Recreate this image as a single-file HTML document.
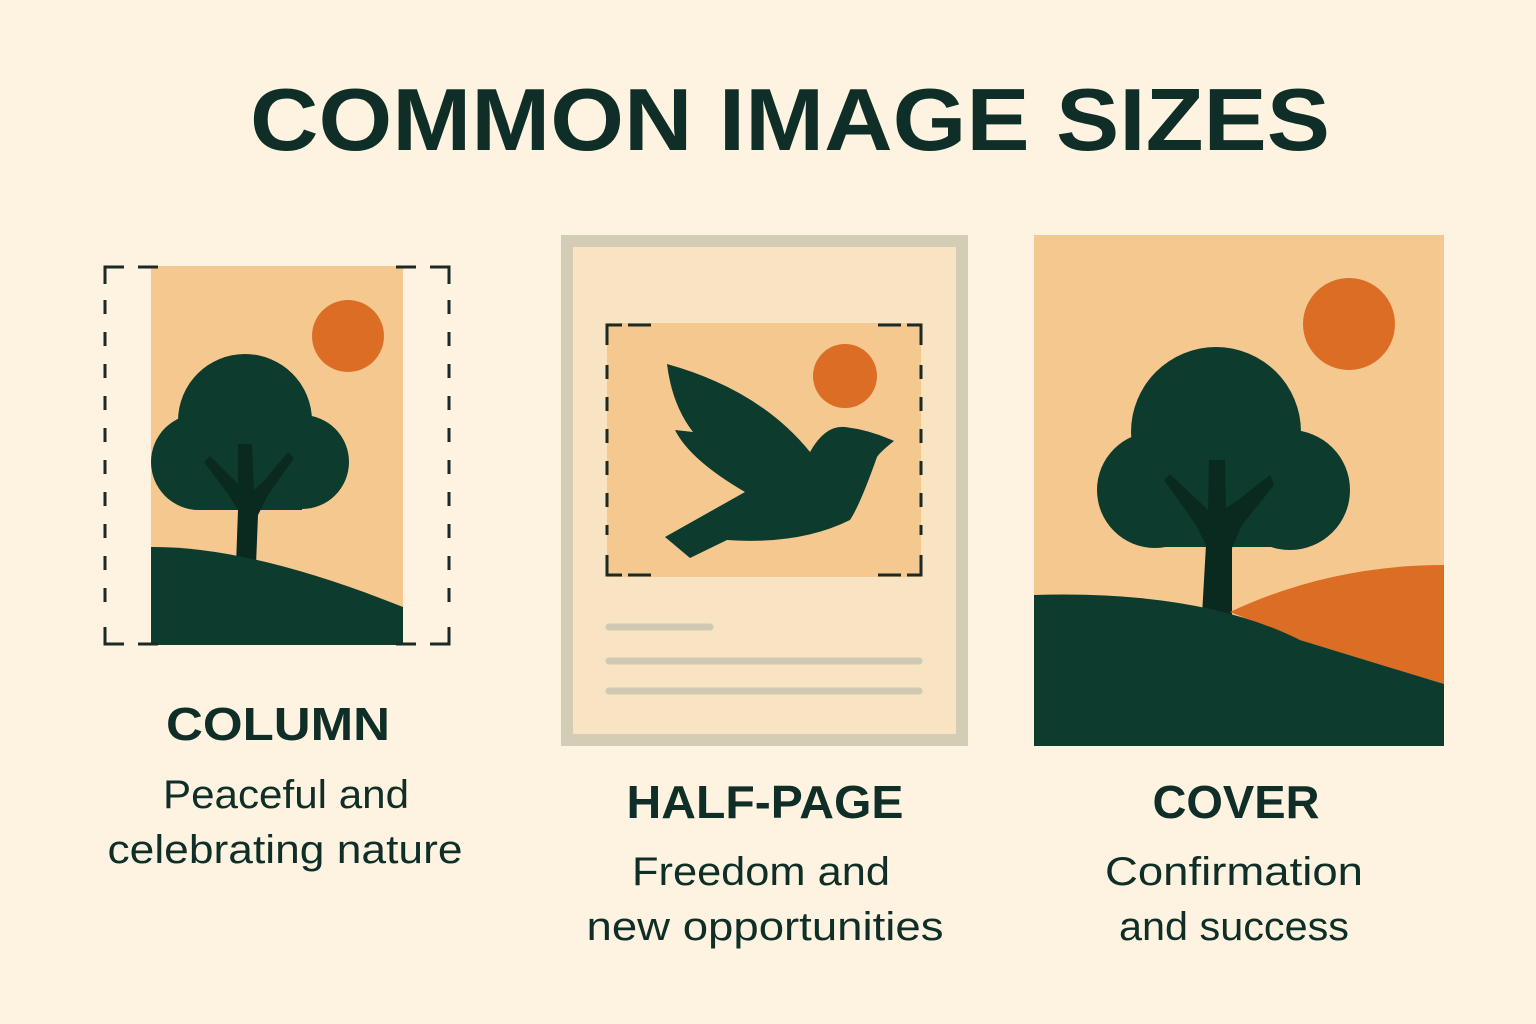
<!DOCTYPE html>
<html><head><meta charset="utf-8"><style>
html,body{margin:0;padding:0;background:#fdf3e0;}
svg{display:block;}
text{font-family:"Liberation Sans","DejaVu Sans",sans-serif;fill:#0f2e27;}
</style></head><body>
<svg width="1536" height="1024" viewBox="0 0 1536 1024">
<rect width="1536" height="1024" fill="#fdf3e0"/>
<text x="790" y="150" text-anchor="middle" font-size="88" font-weight="bold" textLength="1080" lengthAdjust="spacingAndGlyphs">COMMON IMAGE SIZES</text>

<!-- Column -->
<g>
<rect x="151" y="266" width="252" height="379" fill="#f5c890"/>
<circle cx="348" cy="336" r="36" fill="#dc6d25"/>
<g fill="#0d3b2e">
<circle cx="245" cy="421" r="67"/>
<circle cx="199" cy="462" r="48"/>
<circle cx="302" cy="462" r="47"/>
<rect x="199" y="420" width="103" height="90"/>
</g>
<polygon points="238,444 252,444 254,490 264,481 288,452 294,458 268,495 258,515 256,565 236,565 238,510 228,494 204,462 210,456 238,484" fill="#0a2a20"/>
<path d="M151,547 Q250,546 403,607 L403,645 L151,645 Z" fill="#0d3b2e"/>
<g fill="none" stroke="#1a2a26" stroke-width="3">
<line x1="105" y1="300" x2="105" y2="612" stroke-dasharray="14,18"/>
<line x1="449" y1="300" x2="449" y2="612" stroke-dasharray="14,18"/>
<path d="M105,284 L105,267 L124,267 M138,267 L158,267"/>
<path d="M396,267 L416,267 M430,267 L449,267 L449,284"/>
<path d="M105,627 L105,644 L124,644 M138,644 L158,644"/>
<path d="M396,644 L416,644 M430,644 L449,644 L449,627"/>
</g>
</g>
<text x="278" y="740" text-anchor="middle" font-size="46" font-weight="bold" textLength="224" lengthAdjust="spacingAndGlyphs">COLUMN</text>
<text x="286" y="808" text-anchor="middle" font-size="40" textLength="246" lengthAdjust="spacingAndGlyphs">Peaceful and</text>
<text x="285" y="863" text-anchor="middle" font-size="40" textLength="355" lengthAdjust="spacingAndGlyphs">celebrating nature</text>

<!-- Half page -->
<g>
<rect x="567" y="241" width="395" height="499" fill="#f8e4c2" stroke="#d4cdb6" stroke-width="12"/>
<rect x="607" y="323" width="314" height="254" fill="#f5c890"/>
<circle cx="845" cy="376" r="32" fill="#dc6d25"/>
<path d="M667,364 Q760,390 810,452 Q825,425 845,427 Q870,430 894,441 Q880,452 877,457 Q860,505 850,520 Q800,545 727,540 L690,558 L665,537 L745,492 Q690,460 675,430 L693,432 Q672,405 667,364 Z" fill="#0d3b2e"/>
<g fill="none" stroke="#1a2a26" stroke-width="3">
<path d="M607,345 L607,325 L622,325 M628,325 L651,325"/>
<path d="M878,325 L901,325 M907,325 L921,325 L921,345"/>
<line x1="607" y1="365" x2="607" y2="535" stroke-dasharray="14,18"/>
<line x1="921" y1="365" x2="921" y2="535" stroke-dasharray="14,18"/>
<path d="M607,555 L607,575 L622,575 M628,575 L651,575"/>
<path d="M878,575 L901,575 M907,575 L921,575 L921,555"/>
</g>
<g stroke="#cfc8b3" stroke-width="7" stroke-linecap="round">
<line x1="609" y1="627" x2="710" y2="627"/>
<line x1="609" y1="661" x2="919" y2="661"/>
<line x1="609" y1="691" x2="919" y2="691"/>
</g>
</g>
<text x="765" y="818" text-anchor="middle" font-size="46" font-weight="bold" textLength="277" lengthAdjust="spacingAndGlyphs">HALF-PAGE</text>
<text x="761" y="885" text-anchor="middle" font-size="40" textLength="258" lengthAdjust="spacingAndGlyphs">Freedom and</text>
<text x="765" y="940" text-anchor="middle" font-size="40" textLength="357" lengthAdjust="spacingAndGlyphs">new opportunities</text>

<!-- Cover -->
<g>
<rect x="1034" y="235" width="410" height="511" fill="#f5c890"/>
<circle cx="1349" cy="324" r="46" fill="#dc6d25"/>
<g fill="#0d3b2e">
<circle cx="1216" cy="432" r="85"/>
<circle cx="1155" cy="490" r="58"/>
<circle cx="1290" cy="490" r="60"/>
<rect x="1155" y="440" width="135" height="107"/>
</g>
<polygon points="1209,460 1225,460 1226,508 1238,500 1270,475 1274,485 1242,525 1232,548 1232,615 1202,615 1206,545 1196,525 1164,480 1170,474 1208,510" fill="#0a2a20"/>
<path d="M1230,612 Q1330,565 1444,565 L1444,684 L1300,640 Z" fill="#dc6d25"/>
<path d="M1034,595 Q1200,590 1300,640 L1444,684 L1444,746 L1034,746 Z" fill="#0d3b2e"/>
</g>
<text x="1236" y="818" text-anchor="middle" font-size="46" font-weight="bold" textLength="167" lengthAdjust="spacingAndGlyphs">COVER</text>
<text x="1234" y="885" text-anchor="middle" font-size="40" textLength="258" lengthAdjust="spacingAndGlyphs">Confirmation</text>
<text x="1234" y="940" text-anchor="middle" font-size="40" textLength="230" lengthAdjust="spacingAndGlyphs">and success</text>
</svg>
</body></html>
